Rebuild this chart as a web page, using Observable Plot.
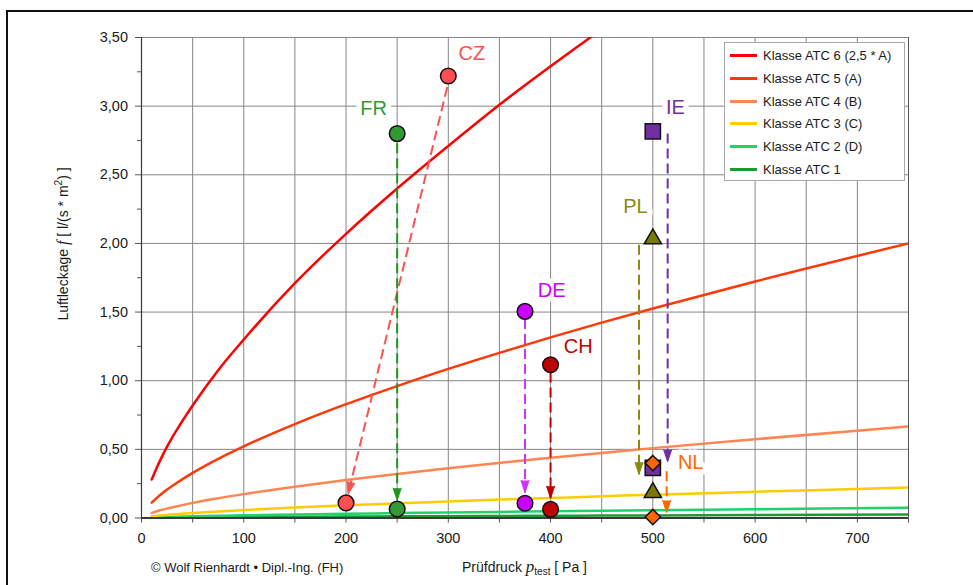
<!DOCTYPE html>
<html>
<head>
<meta charset="utf-8">
<script src="https://cdn.jsdelivr.net/npm/d3@7"></script>
<script src="https://cdn.jsdelivr.net/npm/@observablehq/plot@0.6"></script>
<style>
html,body{margin:0;padding:0;background:#fff;overflow:hidden;}
body{font-family:"Liberation Sans",Arial,sans-serif;}
#wrap{position:relative;width:973px;height:585px;overflow:hidden;background:#fff;}
#wrap svg{position:absolute;left:0;top:0;}
#frame{position:absolute;left:6px;top:9.5px;width:1100px;height:1100px;border-left:2px solid #111;border-top:2px solid #111;pointer-events:none;}
#legend{position:absolute;left:724px;top:42px;width:181px;height:139px;background:#fff;border:1px solid #a8a8a8;box-sizing:border-box;padding-top:1.5px;}
#legend .row{height:22.7px;display:flex;align-items:center;font-size:13px;color:#1a1a1a;white-space:nowrap;}
#legend .sw{width:27px;height:3px;margin-left:5px;margin-right:6px;}
</style>
</head>
<body>
<div id="wrap"></div>
<script>
// ---------- data ----------
const pressures = [10, 15, 20, 25, 35, 50, 75, 100, 150, 200, 250, 300, 350, 400, 450, 500, 600, 750];
const classNames = ["Klasse ATC 6 (2,5 * A)", "Klasse ATC 5 (A)", "Klasse ATC 4 (B)", "Klasse ATC 3 (C)", "Klasse ATC 2 (D)", "Klasse ATC 1"];
const classColors = ["#ff0000", "#ff3808", "#ff8552", "#ffcc00", "#1fd36b", "#1e9a32"];
const atc6 = [0.28, 0.368, 0.447, 0.52, 0.648, 0.82, 1.077, 1.30, 1.71, 2.07, 2.40, 2.71, 3.01, 3.29, 3.56, null, null, null];
const atc5 = [0.112, 0.147, 0.179, 0.207, 0.259, 0.329, 0.431, 0.522, 0.684, 0.829, 0.961, 1.086, 1.203, 1.316, 1.423, 1.526, 1.723, 2.000];
const atc4 = [0.037, 0.049, 0.060, 0.069, 0.086, 0.110, 0.144, 0.174, 0.228, 0.276, 0.320, 0.362, 0.401, 0.439, 0.474, 0.509, 0.574, 0.667];
const atc3 = [0.0125, 0.0164, 0.0199, 0.023, 0.0288, 0.0365, 0.0479, 0.058, 0.076, 0.092, 0.107, 0.121, 0.134, 0.146, 0.158, 0.170, 0.191, 0.222];
const atc2 = [0.0041, 0.0054, 0.0066, 0.0077, 0.0096, 0.0122, 0.016, 0.0193, 0.0253, 0.0307, 0.0356, 0.0402, 0.0446, 0.0487, 0.0527, 0.0565, 0.0638, 0.0741];
const atc1 = [0.0014, 0.0018, 0.0022, 0.0026, 0.0032, 0.0041, 0.0053, 0.0064, 0.0084, 0.0102, 0.0119, 0.0134, 0.0149, 0.0162, 0.0176, 0.0188, 0.0213, 0.0247];
const classValues = [atc6, atc5, atc4, atc3, atc2, atc1];

const countryCodes = ["CZ", "FR", "DE", "CH", "PL", "IE", "NL"];
const countryColors = ["#ff4f4f", "#339933", "#cc00ff", "#c00000", "#7a7a00", "#7030a0", "#ff6600"];
const labelColors = ["#ff4f4f", "#339933", "#cc00ff", "#c00000", "#8a8a10", "#7030a0", "#ff6600"];
const arrowColors = ["#ff5050", "#1e961e", "#cc33ff", "#c00000", "#8a8a10", "#7030a0", "#ff6600"];
const countrySymbols = ["circle", "circle", "circle", "circle", "triangle", "square", "diamond2"];
const measuredX = [300, 250, 375, 400, 500, 500, 500];
const measuredY = [3.22, 2.80, 1.505, 1.116, 2.033, 2.817, 0.40];
const convertedX = [200, 250, 375, 400, 500, 500, 500];
const convertedY = [0.11, 0.065, 0.107, 0.063, 0.185, 0.365, 0.007];
const labelX = [323, 227, 401, 427, 483, 522, 537];
const labelY = [3.38, 2.98, 1.66, 1.25, 2.27, 2.99, 0.40];
const arrowX1 = [299, 250, 375, 400, 486.5, 514.5, 513.5];
const arrowY1 = [3.14, 2.73, 1.45, 1.06, 1.99, 2.80, 0.34];
const arrowX2 = [202, 250, 375, 400, 486.5, 514.5, 513.5];
const arrowY2 = [0.175, 0.13, 0.185, 0.144, 0.318, 0.41, 0.04];

const xMajor = [0, 100, 200, 300, 400, 500, 600, 700];
const xTickLabels = ["0", "100", "200", "300", "400", "500", "600", "700"];
const xMinor = [50, 150, 250, 350, 450, 550, 650, 750];
const yMajor = [0, 0.5, 1.0, 1.5, 2.0, 2.5, 3.0, 3.5];
const yTickLabels = ["0,00", "0,50", "1,00", "1,50", "2,00", "2,50", "3,00", "3,50"];
const yMinor = [0.25, 0.75, 1.25, 1.75, 2.25, 2.75, 3.25];
const xGrid = [50, 100, 150, 200, 250, 300, 350, 400, 450, 500, 550, 600, 650, 700];
const yGrid = [0.5, 1.0, 1.5, 2.0, 2.5, 3.0, 3.5];

// ---------- layout ----------
const W = 973, H = 585, mL = 141, mR = 65, mT = 37, mB = 67.5;
const kx = (W - mL - mR) / 750, ky = (H - mT - mB) / 3.5;

const curveRows = classNames.map((name, i) =>
  pressures.map((p, j) => ({p, f: classValues[i][j]})).filter(d => d.f != null));

const countries = countryCodes.map((c, i) => ({
  code: c, color: countryColors[i], lcolor: labelColors[i], acolor: arrowColors[i], symbol: countrySymbols[i],
  mx: measuredX[i], my: measuredY[i], cx: convertedX[i], cy: convertedY[i],
  lx: labelX[i], ly: labelY[i],
  x1: arrowX1[i], y1: arrowY1[i], x2: arrowX2[i], y2: arrowY2[i],
  angle: Math.atan2((arrowX2[i] - arrowX1[i]) * kx, -((arrowY1[i] - arrowY2[i]) * ky)) * 180 / Math.PI
}));
const markerPts = countries.flatMap(c => [{x: c.mx, y: c.my, color: c.color, symbol: c.symbol}, {x: c.cx, y: c.cy, color: c.color, symbol: c.symbol}]);
const symSize = {circle: 7.8, square: 8.6, triangle: 6.4, diamond2: 6.9};
const symOrder = ["circle", "square", "triangle", "diamond2"];

const marks = [
  Plot.ruleX(xGrid, {stroke: "#868686", strokeWidth: 1}),
  Plot.ruleY(yGrid, {stroke: "#868686", strokeWidth: 1}),
  Plot.ruleX([750], {stroke: "#555", strokeWidth: 1}),
  Plot.axisX(xMajor, {anchor: "bottom", tickSize: 5, tickPadding: 9.5, fontSize: 14.5, stroke: "#555", fill: "#1a1a1a",
    tickFormat: d => xTickLabels[xMajor.indexOf(d)], label: null}),
  Plot.axisX(xMinor, {anchor: "bottom", tickSize: 5, stroke: "#555", tickFormat: () => "", label: null}),
  Plot.axisY(yMajor, {anchor: "left", tickSize: 6, tickPadding: 7.5, fontSize: 14.5, stroke: "#555", fill: "#1a1a1a",
    tickFormat: d => yTickLabels[yMajor.indexOf(d)], label: null}),
  Plot.axisY(yMinor, {anchor: "left", tickSize: 4, stroke: "#555", tickFormat: () => "", label: null}),
];
// curves, ATC 1 at the bottom of the stack
for (let i = classNames.length - 1; i >= 0; i--) {
  marks.push(Plot.line(curveRows[i], {x: "p", y: "f", stroke: classColors[i], strokeWidth: 2.5, curve: "monotone-x", clip: true}));
}
marks.push(
  Plot.ruleX([0], {stroke: "#3a3a3a", strokeWidth: 1.2}),
  Plot.ruleY([0], {stroke: "#3a3a3a", strokeWidth: 2}),
  Plot.text(countries, {x: "lx", y: "ly", text: "code", fill: "lcolor", stroke: "white", strokeWidth: 11,
    strokeLinejoin: "round", paintOrder: "stroke", fontSize: 20, textAnchor: "middle"}),
  Plot.link(countries, {x1: "x1", y1: "y1", x2: "x2", y2: "y2", stroke: "acolor", strokeWidth: 2, strokeDasharray: "10,5"}),
  Plot.vector(countries, {x: "x2", y: "y2", rotate: "angle", length: 12, r: 4, shape: "spike", anchor: "end",
    fill: "acolor", stroke: "acolor", strokeWidth: 1})
);
for (const s of symOrder) {
  marks.push(Plot.dot(markerPts.filter(d => d.symbol === s), {x: "x", y: "y", symbol: s, r: symSize[s],
    fill: "color", stroke: "#111", strokeWidth: 1.5}));
}

const plot = Plot.plot({
  width: W, height: H,
  marginLeft: mL, marginRight: mR, marginTop: mT, marginBottom: mB,
  x: {domain: [0, 750], axis: null},
  y: {domain: [0, 3.5], axis: null},
  color: {type: "identity"},
  style: {fontFamily: "'Liberation Sans', Arial, sans-serif", background: "transparent", overflow: "visible"},
  marks
});

// ---------- rich-text labels ----------
const svg = d3.select(plot);
const yl = svg.append("text").attr("transform", "translate(68,244) rotate(-90)")
  .attr("text-anchor", "middle").attr("font-size", 14).attr("fill", "#1a1a1a")
  .attr("font-family", "'Liberation Sans', Arial, sans-serif");
yl.append("tspan").text("Luftleckage ");
yl.append("tspan").attr("font-family", "'Liberation Serif', 'DejaVu Serif', serif").attr("font-style", "italic").attr("font-size", 16).text("f");
yl.append("tspan").text(" [ l/(s * m");
yl.append("tspan").attr("font-size", 10).attr("dy", -6).text("2");
yl.append("tspan").attr("dy", 6).text(") ]");

const xl = svg.append("text").attr("x", 462).attr("y", 572).attr("text-anchor", "start")
  .attr("font-size", 14).attr("fill", "#1a1a1a")
  .attr("font-family", "'Liberation Sans', Arial, sans-serif");
xl.append("tspan").text("Prüfdruck ");
xl.append("tspan").attr("font-family", "'Liberation Serif', 'DejaVu Serif', serif").attr("font-style", "italic").attr("font-size", 17).text("p");
xl.append("tspan").attr("font-size", 10).attr("dy", 3).text("test");
xl.append("tspan").attr("dy", -3).text(" [ Pa ]");

svg.append("text").attr("x", 151).attr("y", 572).attr("text-anchor", "start")
  .attr("font-size", 13).attr("fill", "#1a1a1a")
  .attr("font-family", "'Liberation Sans', Arial, sans-serif")
  .text("© Wolf Rienhardt • Dipl.-Ing. (FH)");

const wrap = document.getElementById("wrap");
wrap.appendChild(plot);

// ---------- legend ----------
const legend = document.createElement("div");
legend.id = "legend";
classNames.forEach((n, i) => {
  const row = document.createElement("div");
  row.className = "row";
  const sw = document.createElement("span");
  sw.className = "sw";
  sw.style.background = classColors[i];
  const tx = document.createElement("span");
  tx.textContent = n;
  row.appendChild(sw);
  row.appendChild(tx);
  legend.appendChild(row);
});
wrap.appendChild(legend);
const frame = document.createElement("div");
frame.id = "frame";
wrap.appendChild(frame);
</script>
</body>
</html>
